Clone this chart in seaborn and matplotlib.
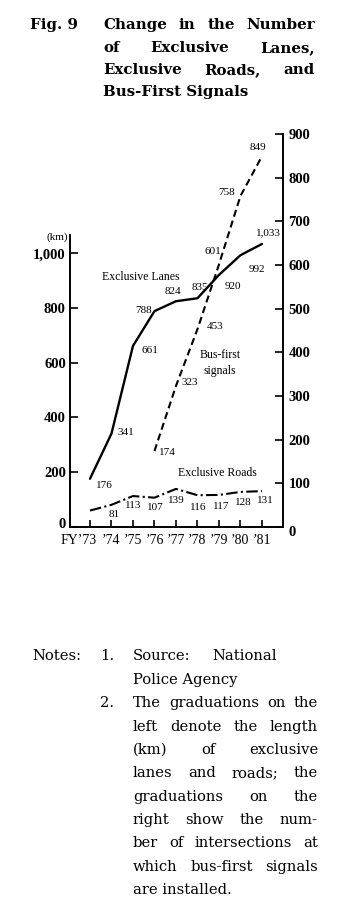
import matplotlib
matplotlib.use("Agg")
import matplotlib.pyplot as plt
import matplotlib.transforms as mtrans
import seaborn as sns
import pandas as pd

# ---------------- data ----------------
years = [1973, 1974, 1975, 1976, 1977, 1978, 1979, 1980, 1981]
year_labels = ["FY\u201973", "\u201974", "\u201975", "\u201976", "\u201977",
               "\u201978", "\u201979", "\u201980", "\u201981"]
lanes_km = [176, 341, 661, 788, 824, 835, 920, 992, 1033]
roads_km = [60, 81, 113, 107, 139, 116, 117, 128, 131]
roads_labelled = [False, True, True, True, True, True, True, True, True]
signal_years = [1976, 1977, 1978, 1979, 1980, 1981]
signals = [174, 323, 453, 601, 758, 849]
left_ticks = [0, 200, 400, 600, 800, 1000]
left_tick_labels = ["0", "200", "400", "600", "800", "1,000"]
right_ticks = [0, 100, 200, 300, 400, 500, 600, 700, 800, 900]

lanes_df = pd.DataFrame({"year": years, "km": lanes_km})
roads_df = pd.DataFrame({"year": years, "km": roads_km})
sig_df = pd.DataFrame({"year": signal_years, "n": signals})

# ---------------- style ----------------
sns.set_theme(style="ticks")
plt.rcParams["font.family"] = ["Liberation Serif", "DejaVu Serif"]
plt.rcParams["text.color"] = "black"

W, H = 350, 911
fig = plt.figure(figsize=(W / 100, H / 100), dpi=100)
fig.patch.set_facecolor("white")

def fx(px):
    return px / W

def fy(py):
    return 1 - py / H

ax = fig.add_axes([fx(70), fy(527), 213 / W, 400 / H])
ax2 = ax.twinx()
ax.set_facecolor("none")

# lines
sns.lineplot(data=lanes_df, x="year", y="km", ax=ax, color="black", lw=1.7)
sns.lineplot(data=roads_df, x="year", y="km", ax=ax, color="black", lw=1.5,
             linestyle=(0, (5.5, 1.6, 1.0, 1.6)))
sns.lineplot(data=sig_df, x="year", y="n", ax=ax2, color="black", lw=1.5,
             linestyle=(0, (3.4, 2.0)))

ax.set_xlim(1972.07, 1981.98)
ax2.set_xlim(1972.07, 1981.98)
ax.set_ylim(0, 1460)
ax2.set_ylim(0, 916)

# spines
for s in ["top", "right"]:
    ax.spines[s].set_visible(False)
for s in ["top", "left", "bottom"]:
    ax2.spines[s].set_visible(False)
for sp in [ax.spines["left"], ax.spines["bottom"], ax2.spines["right"]]:
    sp.set_linewidth(1.4)
    sp.set_color("black")
ax.spines["left"].set_bounds(0, 1065)
ax2.spines["right"].set_bounds(0, 900)

# ticks
ax.set_xticks(years)
ax.set_xticklabels(year_labels)
ax.set_yticks(left_ticks)
ax.set_yticklabels(left_tick_labels)
ax2.set_yticks(right_ticks)
ax2.set_yticklabels([str(v) for v in right_ticks])
ax.tick_params(axis="x", direction="in", length=5, width=1.2, pad=5,
               labelsize=10, colors="black")
ax.tick_params(axis="y", direction="in", length=6, width=1.2, pad=3,
               labelsize=10.5, colors="black")
ax2.tick_params(axis="y", direction="in", length=6, width=1.2, pad=4,
                labelsize=10.5, colors="black")
for t in ax.get_yticklabels() + ax2.get_yticklabels():
    t.set_fontweight("bold")
first = ax.get_xticklabels()[0]
first.set_horizontalalignment("right")
first.set_transform(first.get_transform() +
                    mtrans.ScaledTranslation(7 / 100, 0, fig.dpi_scale_trans))
zero_l = ax.get_yticklabels()[0]
zero_l.set_transform(zero_l.get_transform() +
                     mtrans.ScaledTranslation(0, 4 / 100, fig.dpi_scale_trans))
zero_r = ax2.get_yticklabels()[0]
zero_r.set_transform(zero_r.get_transform() +
                     mtrans.ScaledTranslation(0, -4 / 100, fig.dpi_scale_trans))
ax.set_xlabel("")
ax.set_ylabel("")
ax2.set_ylabel("")

# value labels
lab_kw = dict(textcoords="offset pixels", ha="center", va="center",
              fontsize=8, color="black")
lane_off = [(14, -7), (14, 1), (17, -5), (-11, 1), (-3, 10), (2, 11),
            (14, -12), (16, -14), (6, 11)]
for x, v, o in zip(years, lanes_km, lane_off):
    ax.annotate(f"{v:,}", (x, v), xytext=o, **lab_kw)
road_off = [(0, 0), (3, -10), (0, -9), (1, -10), (0, -12), (1, -12),
            (2, -12), (3, -11), (3, -9)]
for x, v, o, show in zip(years, roads_km, road_off, roads_labelled):
    if show:
        ax.annotate(f"{v:,}", (x, v), xytext=o, **lab_kw)
sig_off = [(13, -1), (14, 3), (18, 3), (-6, 13), (-14, 3), (-4, 9)]
for x, v, o in zip(signal_years, signals, sig_off):
    ax2.annotate(f"{v:,}", (x, v), xytext=o, **lab_kw)

def axf(px, py):
    return ((px - 70) / 213, (527 - py) / 400)

ax.text(*axf(102, 277), "Exclusive Lanes", transform=ax.transAxes,
        ha="left", va="center", fontsize=8.5)
ax.text(*axf(220, 363), "Bus-first\nsignals", transform=ax.transAxes,
        ha="center", va="center", fontsize=8.5, linespacing=1.35)
ax.text(*axf(178, 473), "Exclusive Roads", transform=ax.transAxes,
        ha="left", va="center", fontsize=8.5)
ax.text(*axf(57, 237), "(km)", transform=ax.transAxes,
        ha="center", va="center", fontsize=8)

# ---------------- title & notes ----------------
def justify(words, x0, x1, py, **kw):
    texts = [fig.text(0, fy(py), w, ha="left", va="center", **kw) for w in words]
    fig.canvas.draw()
    r = fig.canvas.get_renderer()
    widths = [t.get_window_extent(r).width for t in texts]
    gap = ((x1 - x0) - sum(widths)) / max(len(words) - 1, 1)
    x = x0
    for t, w in zip(texts, widths):
        t.set_x(fx(x))
        x += w + gap

title_kw = dict(fontsize=10.8, fontweight="bold", family="DejaVu Serif")
fig.text(fx(30), fy(25), "Fig. 9", ha="left", va="center", **title_kw)
justify(["Change", "in", "the", "Number"], 103, 315, 25, **title_kw)
justify(["of", "Exclusive", "Lanes,"], 103, 315, 48, **title_kw)
justify(["Exclusive", "Roads,", "and"], 103, 315, 70, **title_kw)
fig.text(fx(103), fy(92), "Bus-First Signals", ha="left", va="center", **title_kw)

note_kw = dict(fontsize=10.6, family="DejaVu Serif")
fig.text(fx(32), fy(656), "Notes:", ha="left", va="center", **note_kw)
fig.text(fx(100), fy(656), "1.", ha="left", va="center", **note_kw)
justify(["Source:", "National"], 133, 277, 656, **note_kw)
fig.text(fx(133), fy(680), "Police Agency", ha="left", va="center", **note_kw)
fig.text(fx(100), fy(703), "2.", ha="left", va="center", **note_kw)
note_lines = [
    ("The graduations on the", 703),
    ("left denote the length", 727),
    ("(km) of exclusive", 750),
    ("lanes and roads; the", 773),
    ("graduations on the", 797),
    ("right show the num-", 820),
    ("ber of intersections at", 843),
    ("which bus-first signals", 867),
]
for line, py in note_lines:
    justify(line.split(), 133, 318, py, **note_kw)
fig.text(fx(133), fy(890), "are installed.", ha="left", va="center", **note_kw)

fig.savefig("out.png", dpi=100, facecolor="white")
